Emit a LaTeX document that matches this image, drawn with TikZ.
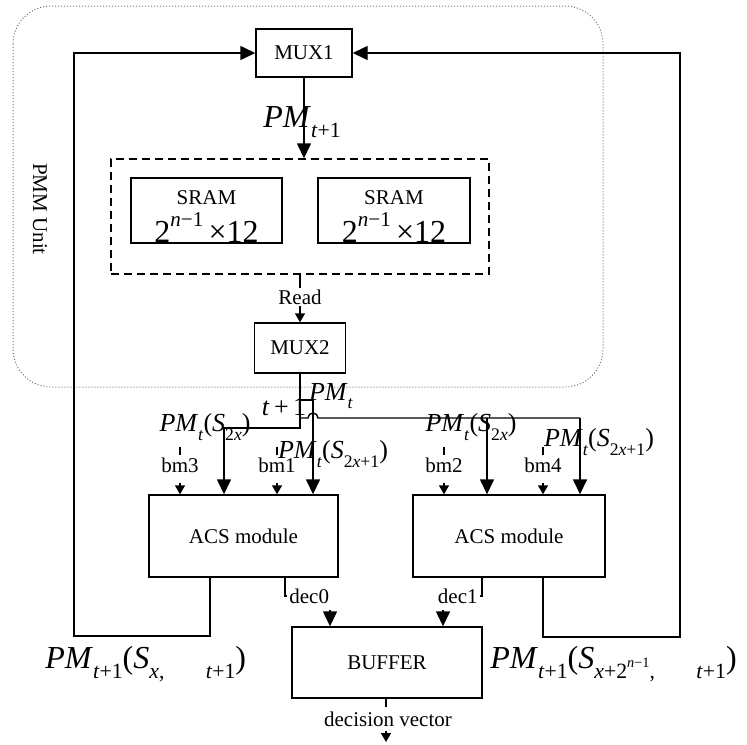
\documentclass[tikz,border=0pt]{standalone}
\usepackage{fontspec}
\setmainfont{Liberation Serif}
\usepackage{graphicx}
\usetikzlibrary{arrows.meta}
% lowered / raised small text for indices in the labels
\newcommand\lo[1]{\raisebox{-0.32em}{\scalebox{0.68}{#1}}}
\newcommand\hi[1]{\raisebox{0.5em}{\scalebox{0.66}{#1}}}
\newcommand\PMi{\textit{PM}}
\begin{document}
\begin{tikzpicture}[x=0.5pt,y=-0.5pt,
  wire/.style={line width=0.7pt},
  blk/.style={draw,line width=0.7pt,inner sep=0pt},
  big/.style={-{Triangle[width=7pt,length=7.5pt]}},
  small/.style={-{Triangle[width=5pt,length=4.5pt]}},
  txt/.style={font=\fontsize{10.5pt}{12pt}\selectfont},
  eq/.style={font=\fontsize{13pt}{15pt}\selectfont,inner sep=0pt},
  bigeq/.style={font=\fontsize{16pt}{18pt}\selectfont,inner sep=0pt},
  tag/.style={txt,fill=white,inner sep=1pt},
]
\useasboundingbox (0,0) rectangle (747,744);

% path-metric memory unit outline
\draw[black!55,line width=0.5pt,densely dotted,rounded corners=19pt] (13,6) rectangle (603,387);
\node[txt,rotate=-90] (pmmlabel) at (40,209) {PMM Unit};

% blocks
\node[blk,txt,minimum width=48pt,minimum height=24pt] (mux1) at (304,53) {MUX1};
\node[draw,line width=0.7pt,dash pattern=on 4pt off 2.5pt,minimum width=189pt,minimum height=57.5pt] (mem) at (300,216.5) {};
\node[blk,minimum width=75.5pt,minimum height=32.5pt] (sramL) at (206.5,210.5) {};
\node[blk,minimum width=76pt,minimum height=32.5pt] (sramR) at (394,210.5) {};
\node[txt,anchor=base,inner sep=0pt] (sramLa) at (206.5,204) {SRAM};
\node[txt,anchor=base,inner sep=0pt] (sramRa) at (394,204) {SRAM};
\node[bigeq,anchor=base] (sramLb) at (206.5,242) {2\hi{\textit{n}−1}\,×12};
\node[bigeq,anchor=base] (sramRb) at (394,242) {2\hi{\textit{n}−1}\,×12};
\node[blk,txt,minimum width=45.5pt,minimum height=25pt] (mux2) at (300,348) {MUX2};
\node[blk,txt,minimum width=94.5pt,minimum height=41pt] (acsL) at (243.5,536) {ACS module};
\node[blk,txt,minimum width=96pt,minimum height=41pt] (acsR) at (509,536) {ACS module};
\node[blk,txt,minimum width=95pt,minimum height=35.5pt] (buffer) at (387,662.5) {BUFFER};

% write path into the memory
\draw[wire,big] (mux1.south) -- (mux1.south |- mem.north);
\node[bigeq] (pmnext) at (302,122) {\PMi\lo{\textit{t}+1}};

% read path
\draw[wire,small] (mem.south -| mux2) -- (mux2.north);
\node[tag] (read) at (300,297) {Read};

% distribution of PM_t to the ACS inputs
\coordinate (j0) at (300,400);
\coordinate (j1) at (300,418);
\coordinate (j2) at (300,428);
\coordinate (hop) at (308,418);
\coordinate (inA) at (224,0);
\coordinate (inB) at (313,0);
\coordinate (inC) at (487,0);
\coordinate (inD) at (580,0);
\draw[wire,big] (mux2.south) -- (j2) -| (acsL.north -| inA);
\draw[wire,big] (j0) -| (acsL.north -| inB);
\draw[wire] (j1) -- (hop) arc[start angle=180,end angle=0,radius=2.5pt] -- (j1 -| inD);
\draw[wire,big] (j1 -| inC) -- (acsR.north -| inC);
\draw[wire,big] (j1 -| inD) -- (acsR.north -| inD);

% branch metric inputs
\node[tag] (bm3) at (180,465) {bm3};
\node[tag] (bm1) at (277,465) {bm1};
\node[tag] (bm2) at (444,465) {bm2};
\node[tag] (bm4) at (543,465) {bm4};
\foreach \b/\m in {bm3/acsL,bm1/acsL,bm2/acsR,bm4/acsR}{
  \draw[wire] (\b.north) -- ++(0,-8);
  \draw[wire,small] ([yshift=5.5pt]\m.north -| \b) -- (\m.north -| \b);
}

% labels of the metric lines
\node[eq] (tp1) at (284,407) {\textit{t}\,+\,1};
\node[eq] (pmt) at (331,396) {\PMi\lo{\textit{t}}};
\node[eq] (pmL1) at (205,427) {\PMi\lo{\textit{t}}(\textit{S}\lo{2\textit{x}})};
\node[eq] (pmL2) at (333,454) {\PMi\lo{\textit{t}}(\textit{S}\lo{2\textit{x}+1})};
\node[eq] (pmR1) at (471,427) {\PMi\lo{\textit{t}}(\textit{S}\lo{2\textit{x}})};
\node[eq] (pmR2) at (599,442) {\PMi\lo{\textit{t}}(\textit{S}\lo{2\textit{x}+1})};

% decision bits into the buffer
\node[txt,anchor=west,inner sep=1pt] (dec0) at (287,596) {dec0};
\node[txt,anchor=east,inner sep=1pt] (dec1) at (480,596) {dec1};
\coordinate (d0) at (285,0);
\coordinate (d1) at (482,0);
\draw[wire] (acsL.south -| d0) |- (dec0.west);
\draw[wire] (acsR.south -| d1) |- (dec1.east);
\coordinate (a0) at (330,610);
\coordinate (a1) at (443,610);
\draw[wire,big] (a0) -- (a0 |- buffer.north);
\draw[wire,big] (a1) -- (a1 |- buffer.north);

% buffer output
\coordinate (dvx) at (386,0);
\draw[wire] (buffer.south -| dvx) -- ++(0,8);
\node[txt,inner sep=1pt] (dv) at (388,719) {decision vector};
\coordinate (dva) at (386,731);
\draw[wire,small] (dva) -- ++(0,11);

% updated metrics fed back to MUX1
\coordinate (oL) at (210,636);
\coordinate (fbL) at (74,636);
\coordinate (oR) at (543,637);
\coordinate (fbR) at (680,637);
\draw[wire,big] (acsL.south -| oL) -- (oL) -- (fbL) |- (mux1.west);
\draw[wire,big] (acsR.south -| oR) -- (oR) -- (fbR) |- (mux1.east);
\node[bigeq,anchor=west] (pmoutL) at (45,664) {\PMi\lo{\textit{t}+1}(\textit{S}\lo{\textit{x},\hspace{1.9em}\textit{t}+1})};
\node[bigeq,anchor=west] (pmoutR) at (490,664) {\PMi\lo{\textit{t}+1}(\textit{S}\lo{\textit{x}+2\hi{\textit{n}−1},\hspace{1.9em}\textit{t}+1})};
\end{tikzpicture}
\end{document}
